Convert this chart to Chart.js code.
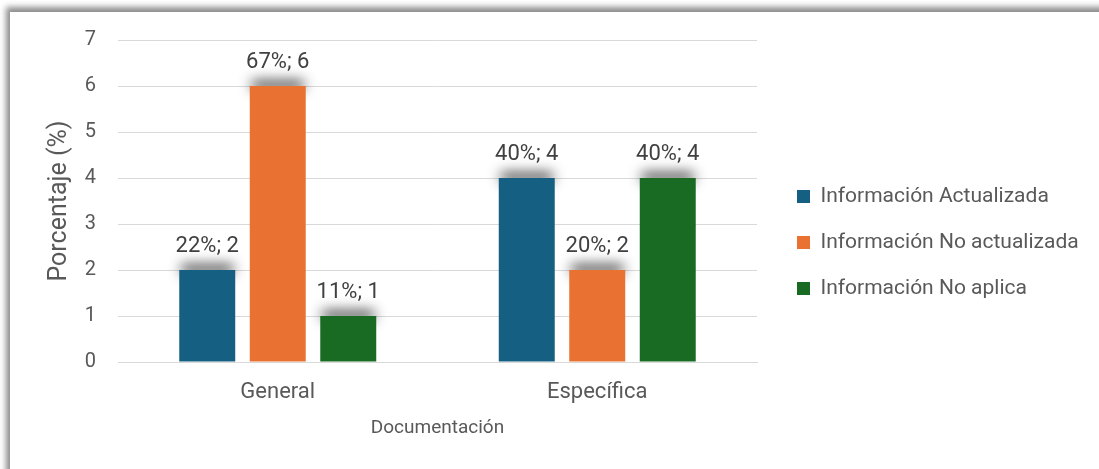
<!DOCTYPE html>
<html>
<head>
<meta charset="utf-8">
<script src="https://cdn.jsdelivr.net/npm/chart.js@4"></script>
<style>
  html, body { margin: 0; padding: 0; background: #ffffff; }
  #frame {
    position: absolute; left: 10px; top: 12px; width: 1200px; height: 600px;
    background: #ffffff;
    box-shadow: -4px -5px 6px rgba(0, 0, 0, 0.45);
  }
  #wrap { position: absolute; left: 0; top: 0; width: 1099px; height: 469px; }
</style>
</head>
<body>
<div id="frame"></div>
<div id="wrap"><canvas id="chartDoc"></canvas></div>
<script>
// categories and series
const categories = ["General", "Específica"];
const seriesNames = ["Información Actualizada", "Información No actualizada", "Información No aplica"];
const actualizada = [2, 4];
const noActualizada = [6, 2];
const noAplica = [1, 4];
// percentages shown in the labels
const pctActualizada = [22, 40];
const pctNoActualizada = [67, 20];
const pctNoAplica = [11, 40];
const yTicks = [0, 1, 2, 3, 4, 5, 6, 7];

const grey = "#595959";

// grey blur on top of each bar
const barShadow = {
    id: "barShadow",
    beforeDatasetsDraw(chart) {
        const ctx = chart.ctx;
        ctx.save();
        chart.data.datasets.forEach((ds, i) => {
            chart.getDatasetMeta(i).data.forEach(bar => {
                const w = bar.width;
                ctx.shadowColor = "rgba(0,0,0,0.85)";
                ctx.shadowBlur = 13;
                ctx.shadowOffsetY = -5;
                ctx.fillStyle = "#666";
                ctx.fillRect(bar.x - w / 2 + 2, bar.y, w - 4, 8);
            });
        });
        ctx.restore();
    }
};

// "pct%; value" labels above bars
const barLabels = {
    id: "barLabels",
    afterDatasetsDraw(chart) {
        const ctx = chart.ctx;
        ctx.save();
        ctx.font = "22px Roboto";
        ctx.fillStyle = "#404040";
        ctx.textAlign = "center";
        ctx.textBaseline = "middle";
        chart.data.datasets.forEach((ds, i) => {
            chart.getDatasetMeta(i).data.forEach((bar, j) => {
                ctx.fillText(ds.pct[j] + "%; " + ds.data[j], bar.x, bar.y - 24);
            });
        });
        ctx.restore();
    }
};

// put the legend a bit to the right of the plot, and give it room
const legendShift = {
    id: "legendShift",
    afterLayout(chart) {
        const lg = chart.legend;
        lg.left = 772;
        lg.right = 1099;
        lg.width = lg.right - lg.left;
        lg.top -= 12;
        lg.bottom -= 12;
    }
};

new Chart("chartDoc", {
    type: "bar",
    data: {
        labels: categories,
        datasets: [{
            label: seriesNames[0],
            data: actualizada,
            pct: pctActualizada,
            backgroundColor: "#156082"
        }, {
            label: seriesNames[1],
            data: noActualizada,
            pct: pctNoActualizada,
            backgroundColor: "#E97132"
        }, {
            label: seriesNames[2],
            data: noAplica,
            pct: pctNoAplica,
            backgroundColor: "#196B24"
        }]
    },
    options: {
        responsive: true,
        maintainAspectRatio: false,
        animation: false,
        categoryPercentage: 0.662,
        barPercentage: 0.794,
        layout: { padding: { left: 10, top: 40, right: 93, bottom: 0 } },
        plugins: {
            tooltip: { enabled: false },
            legend: {
                position: "right",
                align: "center",
                labels: {
                    color: grey,
                    boxWidth: 13,
                    boxHeight: 13,
                    padding: 25,
                    font: { family: "Roboto", size: 21 }
                }
            }
        },
        scales: {
            x: {
                grid: { display: false, drawTicks: false },
                border: { color: "#d9d9d9", width: 1 },
                ticks: { color: grey, padding: 17, font: { family: "Roboto", size: 22 } },
                title: {
                    display: true,
                    text: "Documentación",
                    color: grey,
                    font: { family: "Roboto", size: 19 },
                    padding: { top: 0, bottom: 29 }
                },
                afterFit(scale) { scale.height = 107; }
            },
            y: {
                min: 0,
                max: 7,
                afterBuildTicks(scale) { scale.ticks = yTicks.map(v => ({ value: v })); },
                grid: { color: "#d9d9d9", drawTicks: false },
                border: { display: false },
                ticks: { color: grey, padding: 22, font: { family: "Roboto", size: 20 } },
                title: {
                    display: true,
                    text: "Porcentaje (%)",
                    color: grey,
                    font: { family: "Roboto", size: 25 },
                    padding: { top: 35, bottom: 0 }
                },
                afterFit(scale) { scale.width = 108; }
            }
        }
    },
    plugins: [barShadow, barLabels, legendShift]
});
</script>
</body>
</html>
